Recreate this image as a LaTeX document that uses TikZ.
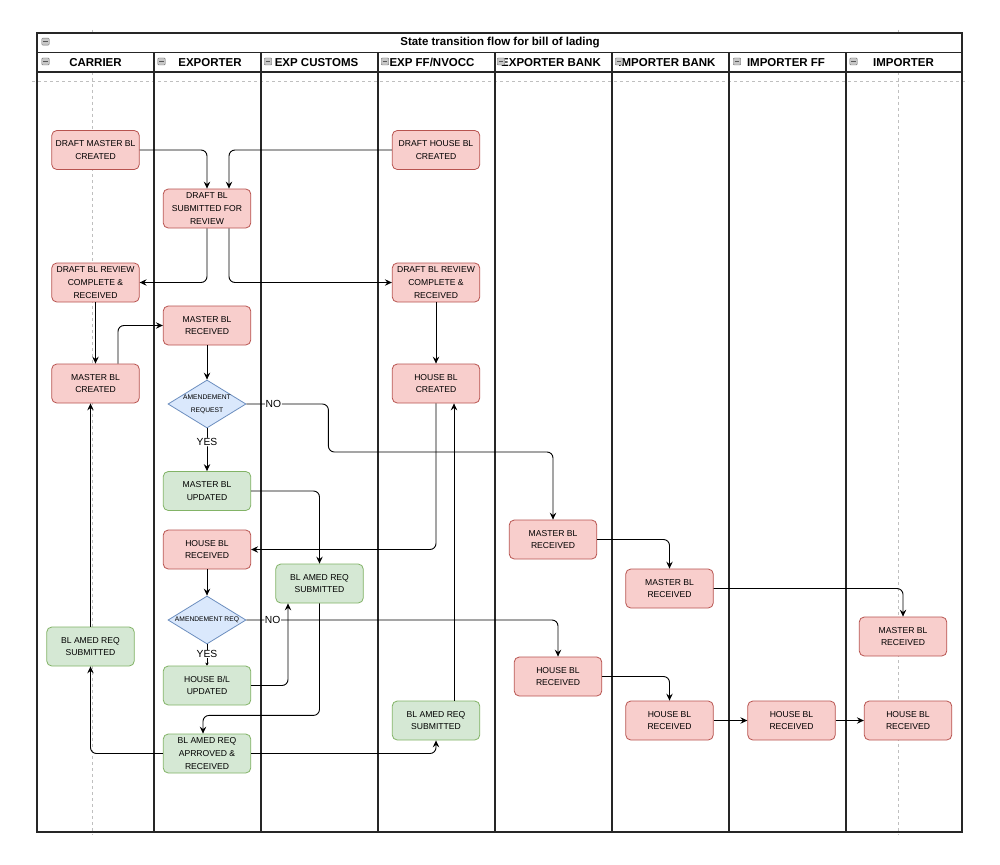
\documentclass[tikz,border=0pt]{standalone}
\usepackage{fontspec}
\setmainfont{Liberation Sans}
\usetikzlibrary{shapes.geometric,arrows.meta,calc}
\definecolor{rfill}{HTML}{F8CECC}
\definecolor{rline}{HTML}{B85450}
\definecolor{gfill}{HTML}{D5E8D4}
\definecolor{gline}{HTML}{82B366}
\definecolor{bfill}{HTML}{DAE8FC}
\definecolor{bline}{HTML}{6C8EBF}
\tikzset{
  box/.style={rounded corners=5pt, line width=0.8pt, minimum width=87.5pt, minimum height=39pt, inner sep=0pt, text depth=-2.2pt, align=center, font=\fontsize{8.6}{12.7}\selectfont},
  redbox/.style={box, draw=rline, fill=rfill},
  greenbox/.style={box, draw=gline, fill=gfill},
  dia/.style={diamond, draw=bline, fill=bfill, line width=0.8pt, minimum width=78pt, minimum height=48pt, inner sep=0pt},
  flow/.style={draw=black, line width=0.9pt, rounded corners=6pt, -{Stealth[length=7pt,width=6.5pt,inset=2.5pt]}},
  lbl/.style={fill=white, inner sep=0.6pt, font=\fontsize{10.3}{12}\selectfont},
  hdr/.style={font=\bfseries\fontsize{11.5}{13}\selectfont, inner sep=0pt},
  guide/.style={draw=black!25, line width=0.7pt, dash pattern=on 3pt off 3pt},
  lanel/.style={draw=black!85, line width=1.2pt},
  icon/.style={draw=black!55, fill=black!22, minimum width=7.5pt, minimum height=7pt, inner sep=0pt, rounded corners=1pt,
    path picture={\draw[black!65, line width=0.7pt] ([xshift=1.4pt]path picture bounding box.west) -- ([xshift=-1.4pt]path picture bounding box.east);}},
}
\begin{document}
\begin{tikzpicture}[x=1pt,y=-1pt]
\useasboundingbox (0,0) rectangle (1000,864);
\fill[white] (0,0) rectangle (1000,864);
% guides
\draw[guide] (32,81) -- (968,81);
\draw[guide] (92.5,30) -- (92.5,835);
\draw[guide] (898,30) -- (898,835);
% header fills
\fill[white] (37,33) rectangle (962,72);
% pool
\draw[lanel] (37,33) rectangle (962,832);
\draw[lanel] (37,52.5) -- (962,52.5);
\draw[lanel] (37,72) -- (962,72);
\foreach \x in {154,261,378,495,612,729,846} \draw[lanel] (\x,52.5) -- (\x,832);
% title and headers
\node[hdr] (title) at (500,43) {State transition flow for bill of lading};
\node[hdr] (hcar) at (95.5,62.5) {CARRIER};
\node[hdr] (hexp) at (210,62.5) {EXPORTER};
\node[hdr] (hcus) at (316.5,62.5) {EXP CUSTOMS};
\node[hdr] (hff) at (432,62.5) {EXP FF/NVOCC};
\node[hdr] (hexb) at (551,62.5) {EXPORTER BANK};
\node[hdr] (himb) at (667,62.5) {IMPORTER BANK};
\node[hdr] (himf) at (786,62.5) {IMPORTER FF};
\node[hdr] (himp) at (903.5,62.5) {IMPORTER};
\node[icon] (it) at (45.5,41.7) {};
\node[icon] (i1) at (45.5,61.5) {};
\node[icon] (i2) at (161.5,61.5) {};
\node[icon] (i3) at (268,61.5) {};
\node[icon] (i4) at (385,61.5) {};
\node[icon] (i5) at (501,61.5) {};
\node[icon] (i6) at (619,61.5) {};
\node[icon] (i7) at (737,61.5) {};
\node[icon] (i8) at (853.5,61.5) {};
% nodes
\node[redbox] (dmbc) at (95.5,150) {DRAFT MASTER BL\\CREATED};
\node[redbox] (dhbc) at (436,150) {DRAFT HOUSE BL\\CREATED};
\node[redbox] (dbs) at (207,208.5) {DRAFT BL\\SUBMITTED FOR\\REVIEW};
\node[redbox] (cdr) at (95.5,282.5) {DRAFT BL REVIEW\\COMPLETE \&\\RECEIVED};
\node[redbox] (fdr) at (436,282.5) {DRAFT BL REVIEW\\COMPLETE \&\\RECEIVED};
\node[redbox] (mbr) at (207,325.5) {MASTER BL\\RECEIVED};
\node[redbox] (mbc) at (95.5,383.5) {MASTER BL\\CREATED};
\node[redbox] (hbc) at (436,383.5) {HOUSE BL\\CREATED};
\node[dia, label={[font=\fontsize{6.7}{13}\selectfont, align=center]center:AMENDEMENT\\REQUEST}] (d1) at (207,404) {};
\node[greenbox] (mbu) at (207,491) {MASTER BL\\UPDATED};
\node[redbox] (hbr) at (207,549.5) {HOUSE BL\\RECEIVED};
\node[greenbox] (camd) at (319.5,583.5) {BL AMED REQ\\SUBMITTED};
\node[dia, label={[font=\fontsize{6.7}{8}\selectfont]center:AMENDEMENT REQ}] (d2) at (207,620) {};
\node[greenbox] (cam) at (90.5,646.5) {BL AMED REQ\\SUBMITTED};
\node[greenbox] (hbu) at (207,685.5) {HOUSE B/L\\UPDATED};
\node[greenbox] (apr) at (207,753.5) {BL AMED REQ\\APRROVED \&\\RECEIVED};
\node[greenbox] (famd) at (436,720.5) {BL AMED REQ\\SUBMITTED};
\node[redbox] (ebm) at (553,539.5) {MASTER BL\\RECEIVED};
\node[redbox] (ibm) at (669.5,588.5) {MASTER BL\\RECEIVED};
\node[redbox] (im) at (903,636.5) {MASTER BL\\RECEIVED};
\node[redbox] (ebh) at (558,676.5) {HOUSE BL\\RECEIVED};
\node[redbox] (ibh) at (669.5,720.5) {HOUSE BL\\RECEIVED};
\node[redbox] (iffh) at (791.5,720.5) {HOUSE BL\\RECEIVED};
\node[redbox] (imh) at (908,720.5) {HOUSE BL\\RECEIVED};
\coordinate (fup) at ($(famd.north)+(18,0)$);
% connectors
\draw[flow] (dmbc.east) -| (dbs.north);
\draw[flow] (dhbc.west) -| ($(dbs.north)+(22,0)$);
\draw[flow] (dbs.south) |- (cdr.east);
\draw[flow] ($(dbs.south)+(22,0)$) |- (fdr.west);
\draw[flow] (cdr.south) -- (mbc.north);
\draw[flow] ($(mbc.north)+(22.5,0)$) |- (mbr.west);
\draw[flow] (mbr.south) -- (d1.north);
\draw[flow] (fdr.south) -- (hbc.north);
\draw[flow] (d1.east) -- node[lbl,pos=0.33]{NO} ++(82,0) -- ++(0,48) -| (ebm.north);
\draw[flow] (d1.south) -- node[lbl,pos=0.32]{YES} (mbu.north);
\draw[flow] (mbu.east) -| (camd.north);
\draw[flow] (hbc.south) |- (hbr.east);
\draw[flow] (hbr.south) -- (d2.north);
\draw[flow] (d2.east) -| node[lbl,pos=0.042]{NO} (ebh.north);
\draw[draw=black, line width=0.9pt, -{Stealth[length=3pt,width=3.5pt]}] (d2.south) -- node[lbl,pos=0.45]{YES} (hbu.north);
\draw[flow] (hbu.east) -| ($(camd.south)+(-31.5,0)$);
\draw[flow] (camd.south) -- ++(0,112) -| ($(apr.north)+(-4,0)$);
\draw[flow] (apr.west) -| (cam.south);
\draw[flow] (apr.east) -| (famd.south);
\draw[flow] (cam.north) -- (cam.north |- mbc.south);
\draw[flow] (fup) -- (fup |- hbc.south);
\draw[flow] (ebm.east) -| (ibm.north);
\draw[flow] (ibm.east) -| (im.north);
\draw[flow] (ebh.east) -| (ibh.north);
\draw[flow] (ibh.east) -- (iffh.west);
\draw[flow] (iffh.east) -- (imh.west);
\end{tikzpicture}
\end{document}
